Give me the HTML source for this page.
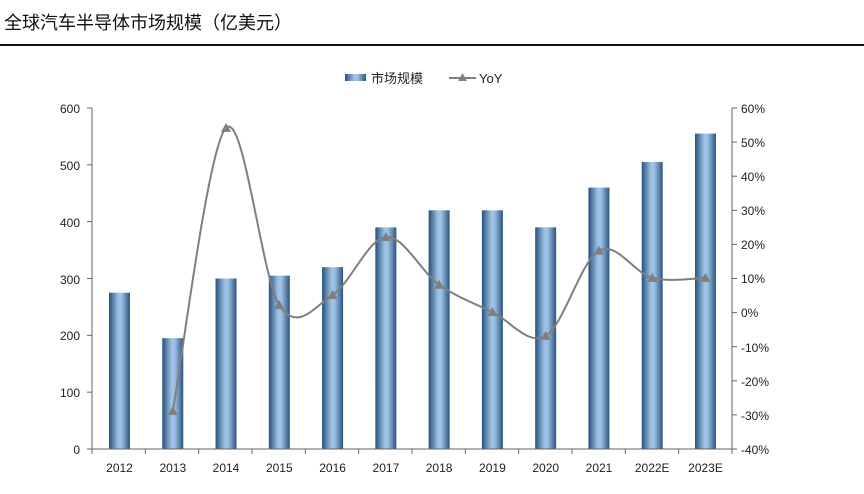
<!DOCTYPE html>
<html><head><meta charset="utf-8"><style>
body{margin:0;background:#fff;width:864px;height:489px;overflow:hidden}
svg text{font-family:"Liberation Sans","Noto Sans CJK SC",sans-serif;fill:#222}
</style></head><body>
<svg id="s" width="864" height="489" xmlns="http://www.w3.org/2000/svg">
<defs><linearGradient id="g" x1="0" x2="1" y1="0" y2="0">
<stop offset="0" stop-color="#27507c"/><stop offset="0.45" stop-color="#9fc3e6"/><stop offset="0.6" stop-color="#9cc0e3"/><stop offset="1" stop-color="#2a5580"/></linearGradient></defs>
<text x="4" y="29" font-size="18" style="fill:#111">全球汽车半导体市场规模（亿美元）</text>
<rect x="0" y="44" width="864" height="2" fill="#111"/>
<rect x="345" y="74" width="21" height="7" fill="url(#g)"/>
<text x="371" y="83" font-size="13">市场规模</text>
<line x1="449" y1="78" x2="476" y2="78" stroke="#7f7f7f" stroke-width="2"/>
<polygon points="462.5,73 467,81 458,81" fill="#7f7f7f"/>
<text x="479" y="83" font-size="13">YoY</text>
<g id="bars"></g>
<line x1="92" y1="108" x2="92" y2="449" stroke="#666"/>
<line x1="92" y1="449" x2="732" y2="449" stroke="#666"/>
<line x1="732" y1="108" x2="732" y2="449" stroke="#666"/>
<g id="ticks" stroke="#666"></g>
<path id="p" fill="none" stroke="#7f7f7f" stroke-width="2"/>
<g id="m" fill="#7f7f7f"></g>
<g font-size="12" text-anchor="end">
<text x="80" y="113">600</text><text x="80" y="170">500</text><text x="80" y="227">400</text><text x="80" y="284">300</text><text x="80" y="340">200</text><text x="80" y="397">100</text><text x="80" y="454">0</text></g>
<g font-size="12" text-anchor="start">
<text x="741" y="113">60%</text><text x="741" y="147">50%</text><text x="741" y="181">40%</text><text x="741" y="215">30%</text><text x="741" y="249">20%</text><text x="741" y="283">10%</text><text x="741" y="317">0%</text><text x="741" y="352">-10%</text><text x="741" y="386">-20%</text><text x="741" y="420">-30%</text><text x="741" y="454">-40%</text></g>
<g font-size="12" text-anchor="middle">
<text x="119.5" y="472">2012</text><text x="172.8" y="472">2013</text><text x="226" y="472">2014</text><text x="279.3" y="472">2015</text><text x="332.6" y="472">2016</text><text x="385.9" y="472">2017</text><text x="439.1" y="472">2018</text><text x="492.4" y="472">2019</text><text x="545.7" y="472">2020</text><text x="599" y="472">2021</text><text x="652.2" y="472">2022E</text><text x="705.5" y="472">2023E</text></g>
</svg>
<script>
var NS="http://www.w3.org/2000/svg";
function el(t,a,p){var e=document.createElementNS(NS,t);for(var k in a)e.setAttribute(k,a[k]);document.getElementById(p).appendChild(e);}
var v=[275,195,300,305,320,390,420,420,390,460,505,555];
var yo=[null,-29,54,2,5,22,8,0,-7,18,10,10];
for(var i=0;i<12;i++){var x=119.5+53.27*i;var t=449-v[i]*0.5683;el("rect",{x:x-10.5,y:t,width:21,height:449-t,fill:"url(#g)"},"bars");}
for(var j=0;j<=6;j++){var y=449-j*56.83;el("line",{x1:87,y1:y,x2:92,y2:y},"ticks");}
for(var j=0;j<=10;j++){var y=449-j*34.1;el("line",{x1:732,y1:y,x2:737,y2:y},"ticks");}
for(var j=0;j<=12;j++){var x=92+j*53.33;el("line",{x1:x,y1:449,x2:x,y2:454},"ticks");}
var P=[];for(var i=1;i<12;i++)P.push([119.5+53.27*i,312-yo[i]*3.41]);
var d="M"+P[0][0]+","+P[0][1];
for(var i=0;i<P.length-1;i++){var a=P[i-1]||P[i],b=P[i],c=P[i+1],e=P[i+2]||c;
d+=" C"+(b[0]+(c[0]-a[0])/6)+","+(b[1]+(c[1]-a[1])/6)+" "+(c[0]-(e[0]-b[0])/6)+","+(c[1]-(e[1]-b[1])/6)+" "+c[0]+","+c[1];}
document.getElementById("p").setAttribute("d",d);
P.forEach(function(q){el("polygon",{points:(q[0])+","+(q[1]-5)+" "+(q[0]+5)+","+(q[1]+4)+" "+(q[0]-5)+","+(q[1]+4)},"m");});
</script>
</body></html>
